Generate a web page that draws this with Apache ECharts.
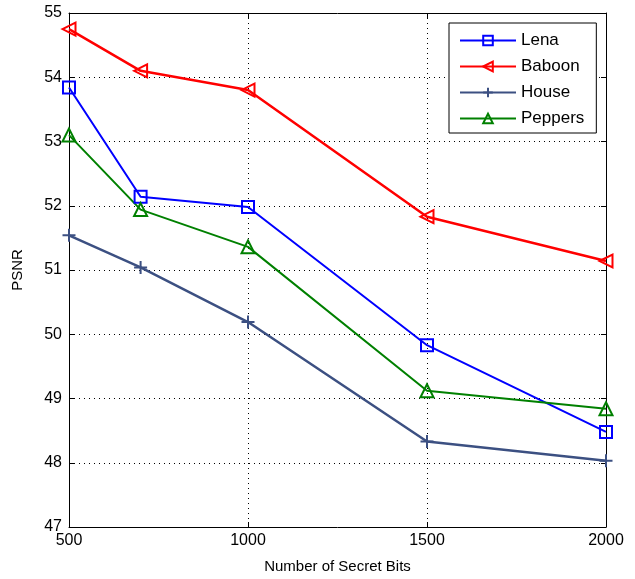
<!DOCTYPE html>
<html>
<head>
<meta charset="utf-8">
<script src="https://cdn.jsdelivr.net/npm/echarts@6/dist/echarts.min.js"></script>
<style>
  html, body { margin: 0; padding: 0; background: #fff; }
  #chart { width: 635px; height: 579px; }
</style>
</head>
<body>
<div id="chart"></div>
<script>
const secretBits = [500, 700, 1000, 1500, 2000];
const lena = [53.84, 52.14, 51.98, 49.83, 48.48];
const baboon = [54.75, 54.1, 53.8, 51.83, 51.14];
const house = [51.54, 51.04, 50.19, 48.33, 48.03];
const peppers = [53.1, 51.94, 51.36, 49.12, 48.84];

const font = "'Liberation Sans', Arial, sans-serif";
const triLeft = "path://M0,5 L10,0 L10,10 Z";
const plus = "path://M5,0 L5,10 M0,5 L10,5";

const pairs = (ys) => secretBits.map((x, i) => [x, ys[i]]);

const makeSeries = (name, ys, color, symbol, size, width) => ({
  name: name,
  type: "line",
  data: pairs(ys),
  symbol: symbol,
  symbolSize: size,
  lineStyle: { color: color, width: width },
  itemStyle: { color: "transparent", borderColor: color, borderWidth: 2 },
  emphasis: { disabled: true },
  z: 3
});

const chart = echarts.init(document.getElementById("chart"), null, { renderer: "canvas" });

const gridLine = { show: true, lineStyle: { color: "#000", type: [1, 4], width: 1 } };

chart.setOption({
  animation: false,
  backgroundColor: "#fff",
  grid: { left: 69, right: 29, top: 13, bottom: 51 },
  legend: {
    orient: "vertical",
    left: 449,
    top: 23,
    padding: [9, 12, 6, 10],
    itemGap: 9,
    itemWidth: 56,
    itemHeight: 12,
    backgroundColor: "#fff",
    borderColor: "#000",
    borderWidth: 1,
    textStyle: { fontFamily: font, fontSize: 17, color: "#000" },
    data: ["Lena", "Baboon", "House", "Peppers"]
  },
  xAxis: [
    {
      type: "value", min: 500, max: 2000, interval: 500,
      name: "Number of Secret Bits", nameLocation: "middle", nameGap: 32,
      nameTextStyle: { fontFamily: font, fontSize: 15, color: "#000" },
      axisLine: { lineStyle: { color: "#000", width: 1 } },
      axisTick: { inside: true, length: 5, lineStyle: { color: "#000" } },
      axisLabel: { fontFamily: font, fontSize: 16, color: "#000", margin: 6, formatter: (v) => String(v) },
      splitLine: gridLine
    },
    {
      type: "value", min: 500, max: 2000, interval: 500, position: "top",
      axisLine: { lineStyle: { color: "#000", width: 1 } },
      axisTick: { inside: true, length: 5, lineStyle: { color: "#000" } },
      axisLabel: { show: false },
      splitLine: { show: false }
    }
  ],
  yAxis: [
    {
      type: "value", min: 47, max: 55, interval: 1,
      name: "PSNR", nameLocation: "middle", nameGap: 44, nameRotate: 90,
      nameTextStyle: { fontFamily: font, fontSize: 15, color: "#000" },
      axisLine: { show: true, lineStyle: { color: "#000", width: 1 } },
      axisTick: { show: true, inside: true, length: 5, lineStyle: { color: "#000" } },
      axisLabel: { fontFamily: font, fontSize: 16, color: "#000", margin: 7 },
      splitLine: gridLine
    },
    {
      type: "value", min: 47, max: 55, interval: 1, position: "right",
      axisLine: { show: true, lineStyle: { color: "#000", width: 1 } },
      axisTick: { show: true, inside: true, length: 5, lineStyle: { color: "#000" } },
      axisLabel: { show: false },
      splitLine: { show: false }
    }
  ],
  series: [
    makeSeries("Lena", lena, "#0000ff", "rect", 12, 2),
    makeSeries("Baboon", baboon, "#ff0000", triLeft, 13, 2.5),
    makeSeries("House", house, "#3c5082", plus, 13, 2.5),
    makeSeries("Peppers", peppers, "#008000", "triangle", 13, 2)
  ]
});
</script>
</body>
</html>
